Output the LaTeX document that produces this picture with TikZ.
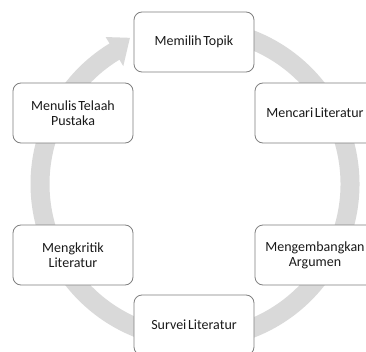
\documentclass[tikz,border=0pt]{standalone}
\usepackage{fontspec}
\setmainfont[WordSpace=0.5]{Carlito}
\definecolor{ringgray}{HTML}{D9D9D9}
\definecolor{boxline}{HTML}{7F7F7F}
\definecolor{txt}{HTML}{1A1A1A}
\begin{document}
\begin{tikzpicture}[x=1pt,y=1pt,
  stepbox/.style={draw=boxline, line width=0.8pt, fill=white, rounded corners=8pt,
    minimum width=120pt, minimum height=60pt, align=center, text=txt,
    font=\fontsize{14}{15}\selectfont, inner sep=0pt}]
\useasboundingbox (0,0) rectangle (366,351);
\clip (0,0) rectangle (366,351);
\fill[white] (0,0) rectangle (366,351);
\coordinate (C) at (195,167);
% ring
\draw[ringgray, line width=19pt] ([shift={(95:155)}]C) arc[start angle=95, end angle=-239, radius=155];
\fill[ringgray] ([shift={(121.3:138)}]C) -- ([shift={(121.3:172)}]C) -- ([shift={(114:160)}]C) -- cycle;
% boxes
\node[stepbox] (top) at (194,309) {Memilih Topik};
\node[stepbox] (rt) at (315,238) {Mencari Literatur};
\node[stepbox] (rb) at (315,96) {Mengembangkan\\Argumen};
\node[stepbox] (bot) at (194,26) {Survei Literatur};
\node[stepbox] (lb) at (73,96) {Mengkritik\\Literatur};
\node[stepbox] (lt) at (73,238) {Menulis Telaah\\Pustaka};
\end{tikzpicture}
\end{document}
